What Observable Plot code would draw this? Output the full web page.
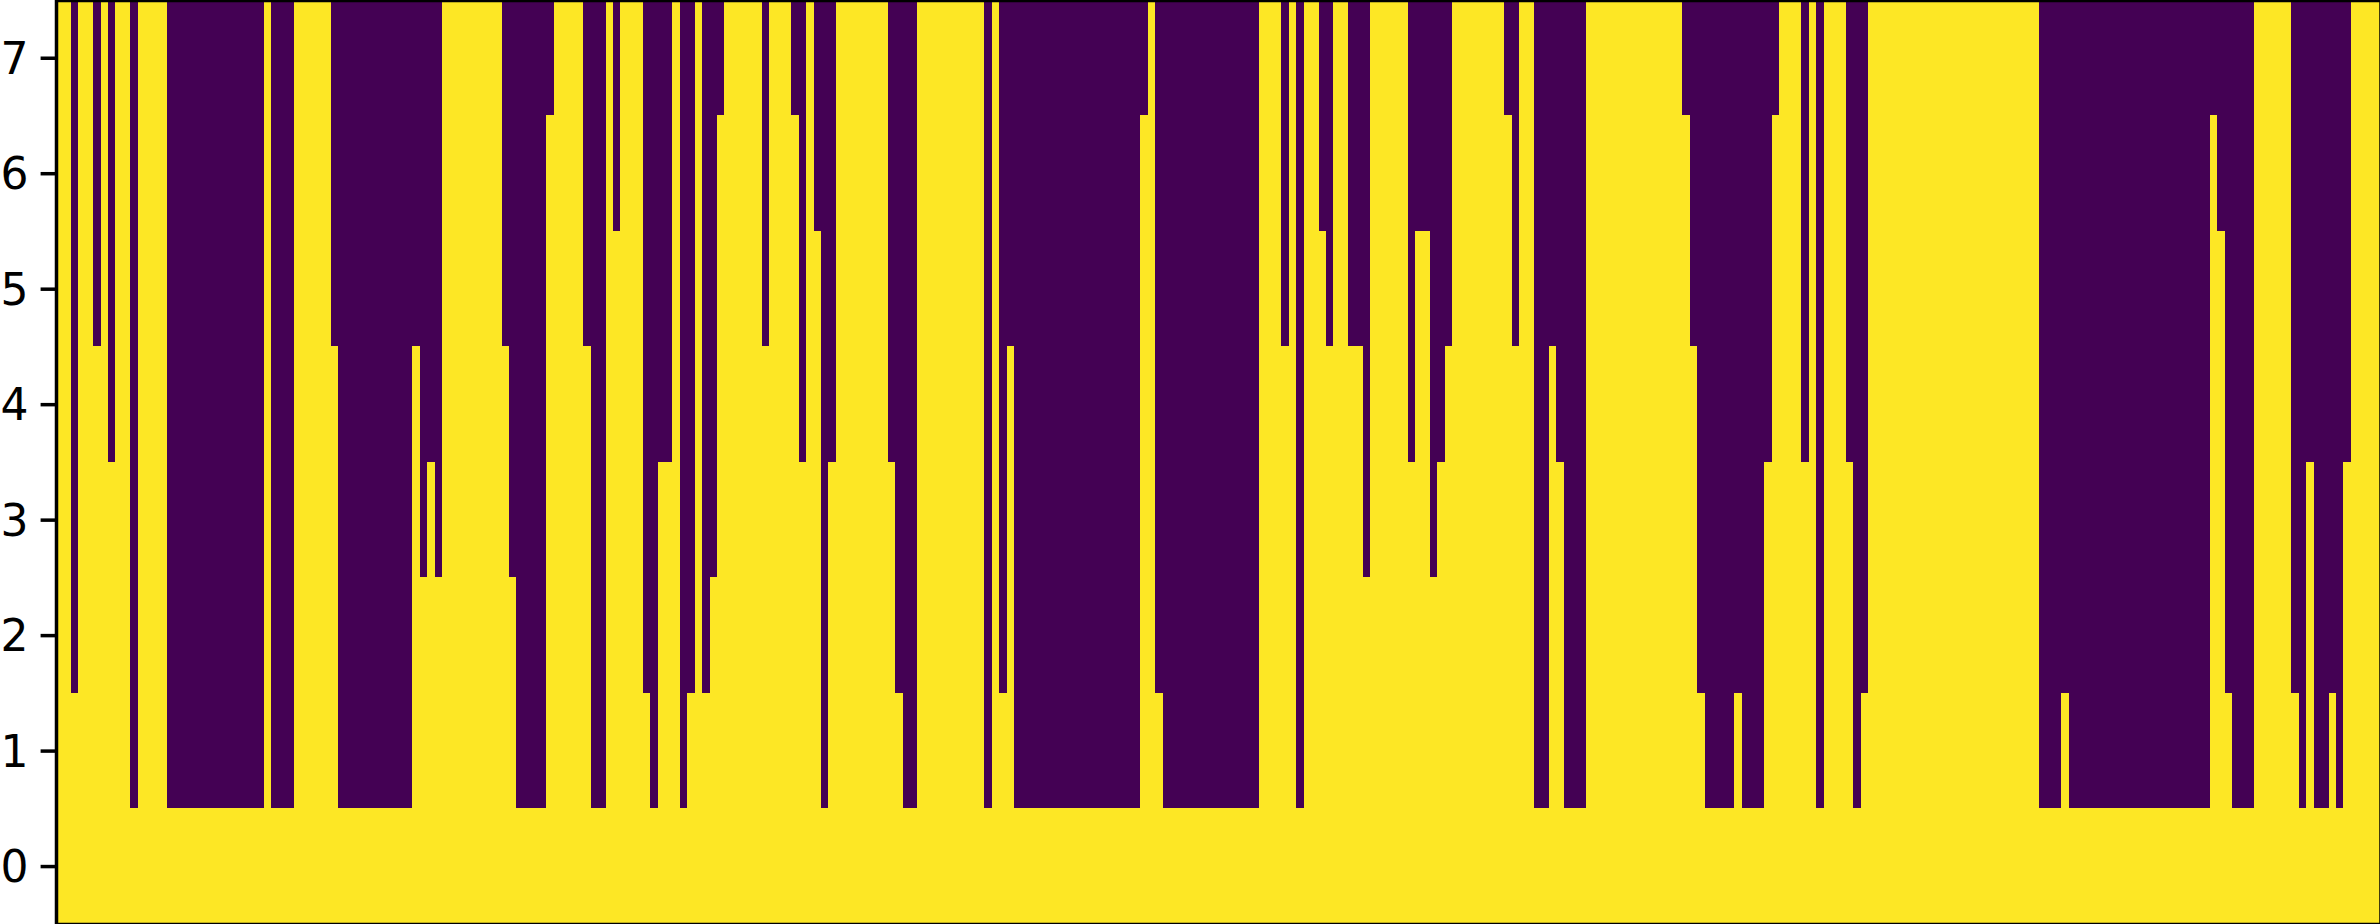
<!DOCTYPE html>
<html>
<head>
<meta charset="utf-8">
<style>html,body{margin:0;padding:0;background:#fff}svg{display:block}</style>
<script src="https://cdn.jsdelivr.net/npm/d3@7"></script>
<script src="https://cdn.jsdelivr.net/npm/@observablehq/plot@0.6"></script>
</head>
<body>
<div id="chart"></div>
<script>
// Number of lit (yellow) rows, counted from row 0, for each column of the matrix.
const yellowRows = [
  8,8,2,8,8,5,8,4,8,8,
  1,8,8,8,8,1,1,1,1,1,
  1,1,1,1,1,1,1,1,8,1,
  1,1,8,8,8,8,8,5,1,1,
  1,1,1,1,1,1,1,1,5,3,
  4,3,8,8,8,8,8,8,8,8,
  5,3,1,1,1,1,7,8,8,8,
  8,5,1,1,8,6,8,8,8,2,
  1,4,4,8,1,2,8,2,3,7,
  8,8,8,8,8,5,8,8,8,7,
  4,8,6,1,4,8,8,8,8,8,
  8,8,4,2,1,1,8,8,8,8,
  8,8,8,8,8,1,8,2,5,1,
  1,1,1,1,1,1,1,1,1,1,
  1,1,1,1,1,1,7,8,2,1,
  1,1,1,1,1,1,1,1,1,1,
  1,1,8,8,8,5,8,1,8,8,
  6,5,8,8,5,5,3,8,8,8,
  8,8,4,6,6,3,4,5,8,8,
  8,8,8,8,8,7,5,8,8,1,
  1,5,4,1,1,1,8,8,8,8,
  8,8,8,8,8,8,8,8,8,7,
  5,2,1,1,1,1,2,1,1,1,
  4,7,8,8,8,4,8,1,8,8,
  8,4,1,2,8,8,8,8,8,8,
  8,8,8,8,8,8,8,8,8,8,
  8,8,8,8,8,8,8,1,1,1,
  2,1,1,1,1,1,1,1,1,1,
  1,1,1,1,1,1,1,1,1,1,
  7,6,2,1,1,1,8,8,8,8,
  8,2,1,4,1,1,2,1,4,8,
  8,8,8
];
const rows = [0, 1, 2, 3, 4, 5, 6, 7];
const yTicks = [0, 1, 2, 3, 4, 5, 6, 7];

const cells = yellowRows.flatMap((count, col) =>
  rows.map(row => ({col, row, value: row < count ? 1 : 0}))
);

const chart = Plot.plot({
  width: 2380,
  height: 924,
  marginLeft: 56,
  marginRight: -0.5,
  marginTop: 0,
  marginBottom: 0,
  style: {fontFamily: "'DejaVu Sans'", background: "#fff", overflow: "hidden"},
  x: {domain: [-0.5, yellowRows.length - 0.5], range: [56, 2380.5], axis: null},
  y: {domain: [-0.5, 7.5], range: [923.8, 0], axis: null},
  color: {type: "linear", scheme: "viridis", domain: [0, 1]},
  marks: [
    Plot.rect(cells, {
      x1: d => d.col - 0.5,
      x2: d => d.col + 0.5,
      y1: d => d.row - 0.5,
      y2: d => d.row + 0.5,
      fill: "value",
      shapeRendering: "crispEdges"
    }),
    Plot.frame({stroke: "#000", strokeWidth: 3.5}),
    Plot.axisY(yTicks, {
      anchor: "left",
      tickSize: 15.4,
      strokeWidth: 3.5,
      stroke: "#000",
      fill: "none",
      label: null
    }),
    Plot.text(yTicks, {
      x: () => -0.5,
      y: d => d,
      text: d => String(d),
      textAnchor: "end",
      dx: -28,
      dy: 1.5,
      fontSize: 44,
      fill: "#000"
    })
  ]
});
document.getElementById("chart").appendChild(chart);
</script>
</body>
</html>
